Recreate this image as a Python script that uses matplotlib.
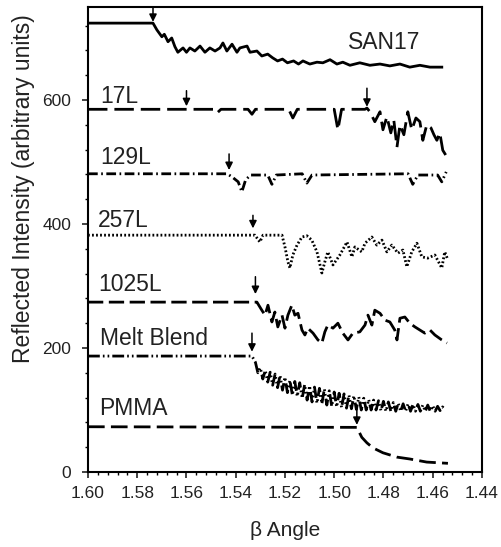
import numpy as np
import matplotlib
matplotlib.use("Agg")
import matplotlib.pyplot as plt
from matplotlib.ticker import MultipleLocator, FormatStrFormatter

plt.rcParams['font.family'] = ['Liberation Sans', 'DejaVu Sans']
plt.rcParams['lines.scale_dashes'] = False

# SAN17 (solid)
san_x = [1.600, 1.5736, 1.572, 1.570, 1.569, 1.5675, 1.566, 1.5647, 1.5635, 1.5614,
         1.560, 1.5586, 1.5566, 1.5545, 1.5525, 1.5505, 1.5484, 1.5464, 1.5452, 1.5436,
         1.5415, 1.5395, 1.5383, 1.5354, 1.5342, 1.5314, 1.5294, 1.527, 1.525, 1.523,
         1.521, 1.519, 1.5165, 1.5145, 1.5127, 1.5099, 1.5070, 1.5046, 1.5017, 1.4989,
         1.4965, 1.4936, 1.4896, 1.4855, 1.4814, 1.4774, 1.4733, 1.4693, 1.4652, 1.4611,
         1.4563]
san_y = [724, 724, 713, 702, 706, 694, 700, 686, 677, 684,
         677, 684, 679, 687, 677, 684, 679, 684, 692, 679,
         690, 677, 684, 687, 677, 679, 671, 674, 668, 663,
         666, 660, 663, 658, 663, 658, 661, 660, 665, 658,
         661, 656, 660, 656, 658, 655, 658, 653, 656, 653,
         653]

# 17L (long dashes)
l17_x = [1.600, 1.549, 1.5476, 1.546, 1.535, 1.5334, 1.532, 1.5185, 1.5168, 1.515,
         1.500, 1.4985, 1.497, 1.4875, 1.4867, 1.4855, 1.4835, 1.4814, 1.4802, 1.4786,
         1.4770, 1.4758, 1.4745, 1.4733, 1.4717, 1.4701, 1.4685, 1.4668, 1.4652, 1.4640,
         1.4624, 1.4607, 1.4595, 1.4583, 1.4571, 1.4559, 1.4542]
l17_y = [585, 585, 579, 585, 585, 577, 585, 585, 571, 585,
         585, 552, 585, 585, 587, 581, 565, 581, 552, 573,
         547, 568, 524, 560, 544, 581, 552, 571, 565, 535,
         560, 555, 544, 535, 547, 519, 508]

# 129L (dash-dot)
l129_x = [1.600, 1.5435, 1.5415, 1.539, 1.5375, 1.536, 1.534, 1.527, 1.5253, 1.5235,
          1.513, 1.5111, 1.509, 1.470, 1.4681, 1.466, 1.458, 1.4563, 1.4545]
l129_y = [481, 481, 476, 468, 452, 471, 479, 479, 464, 479,
          481, 466, 479, 481, 464, 479, 479, 468, 484]

# 257L (dotted)
l257_x = [1.600, 1.5322, 1.5302, 1.5289, 1.5212, 1.5200, 1.5188, 1.5180, 1.5168, 1.5151,
          1.5131, 1.5111, 1.5091, 1.5070, 1.5050, 1.5038, 1.5026, 1.5005, 1.4977, 1.4948,
          1.4928, 1.4916, 1.4888, 1.4875, 1.4847, 1.4827, 1.4806, 1.4786, 1.4766, 1.4741,
          1.4721, 1.4705, 1.4685, 1.4664, 1.4644, 1.4620, 1.4591, 1.4563, 1.4551, 1.4538]
l257_y = [382, 382, 371, 382, 382, 363, 339, 329, 350, 366,
          379, 381, 374, 355, 321, 339, 355, 334, 350, 371,
          347, 363, 355, 369, 379, 366, 374, 355, 366, 353,
          358, 331, 355, 369, 347, 345, 350, 329, 355, 342]

# 1025L (dashes)
l1025_x = [1.600, 1.532, 1.5314, 1.5294, 1.5281, 1.5269, 1.5253, 1.5241, 1.5229, 1.5212,
           1.5200, 1.5188, 1.5172, 1.5160, 1.5147, 1.5131, 1.5119, 1.5107, 1.5086, 1.5066,
           1.5050, 1.5038, 1.5026, 1.5005, 1.4985, 1.4965, 1.4944, 1.4924, 1.4896, 1.4875,
           1.4863, 1.4847, 1.4835, 1.4814, 1.4794, 1.4774, 1.4754, 1.4745, 1.4733, 1.4713,
           1.4693, 1.4672, 1.4652, 1.4632, 1.4611, 1.4591, 1.4563, 1.4542]
l1025_y = [274, 274, 274, 261, 253, 269, 242, 258, 234, 253,
           232, 253, 269, 253, 256, 229, 221, 232, 224, 213,
           208, 226, 237, 232, 240, 224, 213, 224, 226, 237,
           253, 237, 261, 256, 245, 242, 229, 213, 248, 250,
           240, 234, 229, 224, 229, 221, 213, 208]

# Melt Blend (dash-dot-dot), noisy band read as alternating upper/lower edge
melt_x = [1.600, 1.5334,
          1.532, 1.531, 1.530, 1.529, 1.528, 1.527, 1.526, 1.525, 1.524, 1.523,
          1.522, 1.521, 1.520, 1.519, 1.518, 1.517, 1.516, 1.515, 1.514, 1.513,
          1.512, 1.511, 1.510, 1.509, 1.508, 1.507, 1.506, 1.505, 1.504, 1.503,
          1.502, 1.501, 1.500, 1.499, 1.498, 1.497, 1.496, 1.495, 1.494, 1.493,
          1.492, 1.491, 1.490, 1.489, 1.488, 1.487, 1.486, 1.485, 1.484, 1.483,
          1.482, 1.481, 1.480, 1.479, 1.478, 1.477, 1.476, 1.475, 1.474, 1.473,
          1.472, 1.471, 1.470, 1.469, 1.468, 1.467, 1.466, 1.465, 1.464, 1.463,
          1.462, 1.461, 1.460, 1.459, 1.458, 1.457, 1.456, 1.455]
melt_y = [187, 187,
          177, 160, 168, 150, 164, 145, 161, 140, 158, 136,
          156, 132, 153, 128, 148, 124, 146, 122, 144, 119,
          141, 116, 139, 113, 137, 111, 135, 110, 134, 108,
          131, 106, 129, 105, 127, 104, 126, 103, 124, 102,
          123, 101, 121, 100, 119, 100, 117, 100, 116, 100,
          115, 99, 114, 98, 113, 98, 112, 98, 111, 98,
          110, 98, 110, 98, 109, 98, 109, 98, 108, 98,
          108, 98, 107, 98, 106, 99, 105, 101]

# PMMA (dashes)
pmma_x = [1.600, 1.4908, 1.4888, 1.4867, 1.4843, 1.4802, 1.4745, 1.4693, 1.4624, 1.4538]
pmma_y = [73, 72, 56, 47, 39, 31, 24, 21, 16, 14]

# arrows: x, tail y, tip y
arrow_x = [1.5736, 1.5600, 1.4867, 1.5427, 1.5330, 1.5320, 1.5334, 1.4908]
arrow_tail = [750, 615, 619, 513, 414, 315, 224, 108]
arrow_tip = [726, 590, 589, 487, 393, 287, 194, 76]

labels = ["SAN17", "17L", "129L", "257L", "1025L", "Melt Blend", "PMMA"]
label_x = [1.4944, 1.5951, 1.5951, 1.5959, 1.5959, 1.5951, 1.5955]
label_y = [692, 606, 508, 405, 302, 216, 103]

fig = plt.figure(figsize=(5.02, 5.47), dpi=100)
ax = fig.add_axes([0.1753, 0.1371, 0.7847, 0.8501])

lw = 2.0
ax.plot(san_x, san_y, color="black", lw=lw, ls="-")
ax.plot(l17_x, l17_y, color="black", lw=lw, ls=(0, (14, 5)))
ax.plot(l129_x, l129_y, color="black", lw=lw, ls=(0, (7, 2.5, 1.2, 2.5)))
ax.plot(l257_x, l257_y, color="black", lw=lw, ls=(0, (1.3, 1.6)))
ax.plot(l1025_x, l1025_y, color="black", lw=lw, ls=(0, (11, 4)))
ax.plot(melt_x, melt_y, color="black", lw=lw, ls=(0, (8.5, 2.2, 1.2, 2.2, 1.2, 2.2)))
ax.plot(pmma_x, pmma_y, color="black", lw=lw, ls=(0, (12, 4.5)))

for xa, yt, yh in zip(arrow_x, arrow_tail, arrow_tip):
    ax.annotate("", xy=(xa, yh), xytext=(xa, yt),
                arrowprops=dict(arrowstyle="-|>", color="black", lw=1.1,
                                mutation_scale=11, shrinkA=0, shrinkB=0))

for t, xl, yl in zip(labels, label_x, label_y):
    ax.text(xl, yl, t, fontsize=16.5, color="#222222", ha="left", va="center")

ax.set_xlim(1.60, 1.44)
ax.set_ylim(0, 750)
ax.xaxis.set_major_locator(MultipleLocator(0.02))
ax.xaxis.set_minor_locator(MultipleLocator(0.004))
ax.xaxis.set_major_formatter(FormatStrFormatter("%.2f"))
ax.yaxis.set_major_locator(MultipleLocator(200))
ax.yaxis.set_minor_locator(MultipleLocator(40))
ax.tick_params(which="major", direction="out", length=4, width=1.2, labelsize=12.5,
               colors="#222222", pad=6)
ax.tick_params(axis="y", which="major", pad=8)
ax.tick_params(which="minor", direction="out", length=2, width=1.0)
for s in ax.spines.values():
    s.set_linewidth(1.5)

ax.set_xlabel("β Angle", fontsize=15, color="#222222")
ax.xaxis.set_label_coords(0.5, -0.105)
ax.set_ylabel("Reflected Intensity (arbitrary units)", fontsize=16.5, color="#222222")
ax.yaxis.set_label_coords(-0.135, 0.61)

fig.savefig("out.png", dpi=100)
